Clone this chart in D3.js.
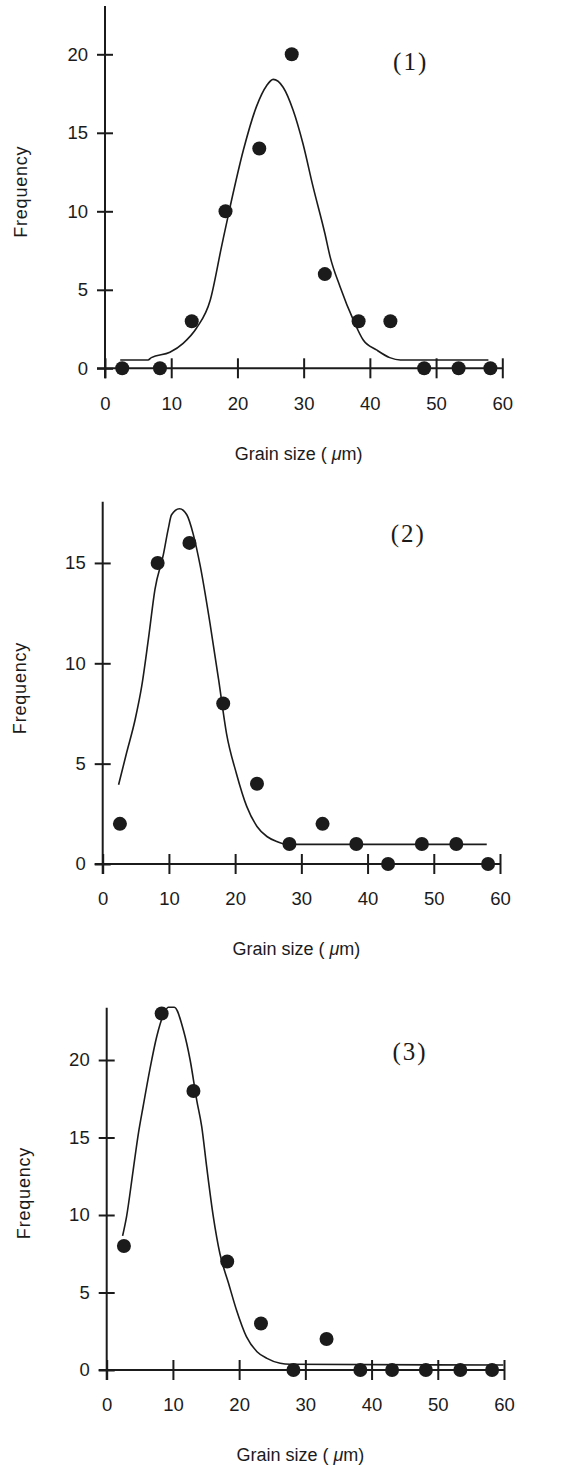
<!DOCTYPE html>
<html>
<head>
<meta charset="utf-8">
<script src="https://cdn.jsdelivr.net/npm/d3@7"></script>
<style>
  body { margin: 0; background: #fff; }
  svg { display: block; }
</style>
</head>
<body>
<script>
// grain size class midpoints (um)
const grainSize = [2.6, 8.3, 13.1, 18.2, 23.3, 28.2, 33.2, 38.3, 43.1, 48.2, 53.4, 58.2];

// measured frequencies
const freq1 = [0, 0, 3, 10, 14, 20, 6, 3, 3, 0, 0, 0];
const freq2 = [2, 15, 16, 8, 4, 1, 2, 1, 0, 1, 1, 0];
const freq3 = [8, 23, 18, 7, 3, 0, 2, 0, 0, 0, 0, 0];

// fitted curves
const fit1 = [[2.3, 0.53], [6.5, 0.53], [7.0, 0.68], [9.8, 1.02], [11.8, 1.59], [13.8, 2.55], [15.9, 4.35],
  [17.6, 7.75], [18.9, 10.3], [20.9, 13.9], [22.9, 16.7], [24.4, 18.0], [25.4, 18.4], [26.9, 17.9],
  [28.4, 16.45], [29.9, 14.3], [31.4, 11.6], [33.2, 8.6], [34.0, 7.1], [35.5, 5.2], [37.5, 3.08],
  [39.0, 1.8], [41.0, 1.17], [43.0, 0.68], [44.6, 0.53], [57.9, 0.53]];
const fit2 = [[2.4, 3.95], [3.6, 5.53], [4.9, 7.2], [5.9, 8.87], [6.9, 11.2], [7.9, 13.7], [9.15, 15.4],
  [9.9, 16.7], [10.4, 17.4], [11.6, 17.7], [12.7, 17.4], [13.7, 16.4], [14.7, 14.9], [16.2, 12.0],
  [17.5, 9.2], [18.7, 6.5], [20.2, 4.5], [21.75, 2.87], [23.3, 1.87], [24.8, 1.37], [26.3, 1.12],
  [27.8, 0.98], [58.0, 0.98]];
const fit3 = [[2.4, 8.65], [3.0, 9.9], [4.0, 12.9], [4.8, 15.3], [5.5, 17.0], [6.5, 19.35], [7.55, 21.5],
  [8.55, 22.9], [9.3, 23.4], [10.2, 23.4], [11.6, 21.9], [12.6, 20.0], [13.6, 17.4], [14.35, 15.7],
  [15.1, 13.1], [16.1, 9.9], [17.1, 7.5], [18.4, 5.6], [19.6, 3.87], [21.1, 2.15], [22.7, 1.18],
  [24.2, 0.75], [26.2, 0.43], [27.7, 0.37], [59.9, 0.32]];

const xTicks = [0, 10, 20, 30, 40, 50, 60];
const yTicks1 = [0, 5, 10, 15, 20];
const yTicks2 = [0, 5, 10, 15];
const yTicks3 = [0, 5, 10, 15, 20];
const panelLabels = ["(1)", "(2)", "(3)"];

const W = 567, H = 1467;
const INK = "#1b1b1b";
const SANS = "'Liberation Sans', Arial, sans-serif";

const svg = d3.select("body").append("svg")
  .attr("width", W)
  .attr("height", H)
  .style("background-color", "#fff");

// pixel layout of each panel
const panels = [
  { freq: freq1, fit: fit1, yTicks: yTicks1, label: panelLabels[0],
    x0: 105, x60: 502.3, y0: 368.3, top: 6, yUnit: 15.7,
    ytx: 20.7, yty: 191.7, lx: 410.7, ly: 62 },
  { freq: freq2, fit: fit2, yTicks: yTicks2, label: panelLabels[1],
    x0: 102.7, x60: 500, y0: 864, top: 501.7, yUnit: 20.07,
    ytx: 19.3, yty: 688, lx: 408.3, ly: 533.5 },
  { freq: freq3, fit: fit3, yTicks: yTicks3, label: panelLabels[2],
    x0: 106.7, x60: 504, y0: 1370, top: 1007.7, yUnit: 15.5,
    ytx: 23.3, yty: 1193, lx: 410, ly: 1052 }
];

panels.forEach(function(p) {
  const x = d3.scaleLinear().domain([0, 60]).range([p.x0, p.x60]);
  const yMax = (p.y0 - p.top) / p.yUnit;
  const y = d3.scaleLinear().domain([0, yMax]).range([p.y0, p.top]);

  const g = svg.append("g");

  // axis lines
  g.append("line")
    .attr("x1", p.x0).attr("x2", p.x0)
    .attr("y1", p.top).attr("y2", p.y0 + 10)
    .attr("stroke", INK).attr("stroke-width", 2);
  g.append("line")
    .attr("x1", p.x0 - 8).attr("x2", p.x60)
    .attr("y1", p.y0).attr("y2", p.y0)
    .attr("stroke", INK).attr("stroke-width", 2);

  // x axis: ticks cross the line
  const xa = g.append("g")
    .attr("transform", "translate(0," + p.y0 + ")")
    .call(d3.axisBottom(x).tickValues(xTicks).tickSize(10).tickSizeOuter(0));
  xa.select(".domain").remove();
  xa.selectAll(".tick line").attr("y1", -10).attr("y2", 10)
    .attr("stroke", INK).attr("stroke-width", 2);
  xa.selectAll(".tick text")
    .attr("font-family", SANS)
    .attr("font-size", 18.5).attr("fill", INK)
    .attr("dy", "0.35em").attr("y", 35);

  // y axis
  const ya = g.append("g")
    .attr("transform", "translate(" + p.x0 + ",0)")
    .call(d3.axisLeft(y).tickValues(p.yTicks).tickSize(8).tickSizeOuter(0));
  ya.select(".domain").remove();
  ya.selectAll(".tick line").attr("x1", -8).attr("x2", 8)
    .attr("stroke", INK).attr("stroke-width", 2);
  ya.selectAll(".tick text")
    .attr("font-family", SANS)
    .attr("font-size", 18.5).attr("fill", INK).attr("x", -17);

  // fitted curve
  g.append("path")
    .datum(p.fit)
    .attr("d", d3.line().x(d => x(d[0])).y(d => y(d[1])).curve(d3.curveMonotoneX))
    .attr("fill", "none")
    .attr("stroke", INK)
    .attr("stroke-width", 1.6);

  // data points
  g.selectAll("circle.pt")
    .data(p.freq)
    .join("circle")
    .attr("class", "pt")
    .attr("cx", (d, i) => x(grainSize[i]))
    .attr("cy", d => y(d))
    .attr("r", 7)
    .attr("fill", INK);

  // axis titles
  g.append("text")
    .attr("transform", "translate(" + p.ytx + "," + p.yty + ") rotate(-90)")
    .attr("text-anchor", "middle")
    .attr("dy", "0.35em")
    .attr("font-family", SANS)
    .attr("font-size", 18)
    .attr("letter-spacing", 0.8)
    .attr("fill", INK)
    .text("Frequency");

  const xt = g.append("text")
    .attr("x", (p.x0 + p.x60) / 2 - 5)
    .attr("y", p.y0 + 85)
    .attr("dy", "0.35em")
    .attr("text-anchor", "middle")
    .attr("font-family", SANS)
    .attr("font-size", 18)
    .attr("fill", INK);
  xt.append("tspan").text("Grain size ( ");
  xt.append("tspan").attr("font-style", "italic").text("μ");
  xt.append("tspan").text("m)");

  // panel label
  g.append("text")
    .attr("x", p.lx)
    .attr("y", p.ly)
    .attr("dy", "0.33em")
    .attr("text-anchor", "middle")
    .attr("font-family", "'Liberation Serif', 'Times New Roman', serif")
    .attr("font-size", 25)
    .attr("letter-spacing", 2)
    .attr("fill", INK)
    .text(p.label);
});
</script>
</body>
</html>
